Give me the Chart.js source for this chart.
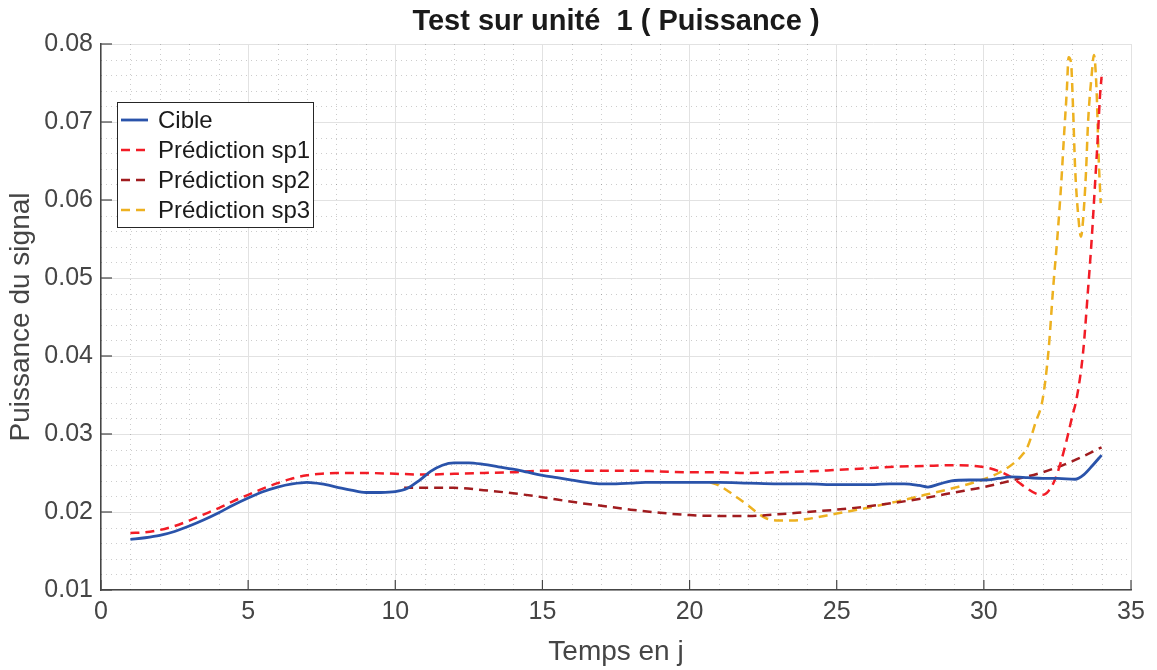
<!DOCTYPE html>
<html>
<head>
<meta charset="utf-8">
<script src="https://cdn.jsdelivr.net/npm/chart.js@4/dist/chart.umd.min.js"></script>
<style>
  html, body { margin: 0; padding: 0; background: #ffffff; }
  #wrap { width: 1157px; height: 670px; }
</style>
</head>
<body>
<div id="wrap"><canvas id="c" width="1157" height="670"></canvas></div>
<script>
// Signal power per day: target and three predictions
const cibleX = [1.0, 1.5, 2.0, 2.5, 3.0, 3.5, 4.0, 4.5, 5.0, 5.5, 6.0, 6.5, 7.0, 7.5, 8.0, 8.5, 9.0, 9.5, 10.0, 10.4, 10.8, 11.2, 11.6, 12.0, 12.5, 13.0, 13.5, 14.0, 14.5, 15.0, 15.5, 16.0, 16.5, 17.0, 17.5, 18.0, 18.5, 19.0, 20.0, 21.0, 22.0, 23.0, 24.0, 25.0, 26.0, 26.8, 27.3, 27.8, 28.1, 28.5, 28.9, 29.5, 30.0, 30.5, 30.9, 31.5, 32.0, 32.5, 33.1, 33.4, 33.7, 34.0];
const cibleY = [0.0165, 0.0167, 0.0170, 0.0175, 0.0182, 0.0190, 0.0199, 0.0209, 0.0218, 0.0226, 0.0232, 0.0236, 0.0238, 0.0236, 0.0232, 0.0228, 0.0225, 0.0225, 0.0226, 0.0230, 0.0240, 0.0252, 0.0260, 0.0263, 0.0263, 0.0261, 0.0258, 0.0255, 0.0251, 0.0247, 0.0244, 0.0241, 0.0238, 0.0236, 0.0236, 0.0237, 0.0238, 0.0238, 0.0238, 0.0238, 0.0237, 0.0236, 0.0236, 0.0235, 0.0235, 0.0236, 0.0236, 0.0234, 0.0232, 0.0236, 0.0240, 0.0241, 0.0241, 0.0243, 0.0245, 0.0244, 0.0243, 0.0243, 0.0242, 0.0248, 0.0260, 0.0273];

const sp1X = [1.0, 1.5, 2.0, 2.5, 3.0, 3.5, 4.0, 4.5, 5.0, 5.5, 6.0, 6.5, 7.0, 7.5, 8.0, 9.0, 10.0, 11.0, 12.0, 13.0, 14.0, 15.0, 16.0, 17.0, 18.0, 19.0, 20.0, 21.0, 22.0, 23.0, 24.0, 25.0, 26.0, 27.0, 28.0, 28.8, 29.7, 30.2, 30.6, 31.0, 31.4, 31.8, 32.0, 32.2, 32.4, 32.6, 32.8, 33.0, 33.16, 33.37, 33.54, 33.67, 33.78, 33.88, 33.94, 34.0];
const sp1Y = [0.0173, 0.0174, 0.0177, 0.0182, 0.0189, 0.0197, 0.0205, 0.0214, 0.0222, 0.0230, 0.0237, 0.0243, 0.0247, 0.0249, 0.0250, 0.0250, 0.0249, 0.0248, 0.0249, 0.0250, 0.0251, 0.0253, 0.0253, 0.0253, 0.0253, 0.0252, 0.0251, 0.0251, 0.0250, 0.0251, 0.0252, 0.0254, 0.0256, 0.0258, 0.0259, 0.0260, 0.0259, 0.0256, 0.0251, 0.0243, 0.0232, 0.0223, 0.0222, 0.0227, 0.0240, 0.0262, 0.0290, 0.0322, 0.0347, 0.0404, 0.0485, 0.0553, 0.0622, 0.0686, 0.0730, 0.0758];

const sp2X = [10.3, 11.0, 12.0, 13.0, 14.0, 15.0, 16.0, 17.0, 18.0, 19.0, 20.0, 21.0, 22.0, 23.0, 24.0, 25.0, 26.0, 27.0, 28.0, 29.0, 30.0, 31.0, 32.0, 33.0, 34.0];
const sp2Y = [0.0231, 0.0231, 0.0231, 0.0228, 0.0224, 0.0219, 0.0213, 0.0208, 0.0203, 0.0199, 0.0196, 0.0195, 0.0195, 0.0197, 0.0200, 0.0203, 0.0207, 0.0212, 0.0218, 0.0225, 0.0232, 0.0241, 0.0251, 0.0265, 0.0283];

const sp3X = [20.7, 21.0, 21.3, 21.6, 22.0, 22.3, 22.6, 23.0, 23.5, 24.0, 25.0, 26.0, 27.0, 28.0, 29.0, 30.0, 30.5, 31.0, 31.3, 31.5, 31.75, 32.0, 32.2, 32.35, 32.5, 32.63, 32.73, 32.82, 32.88, 32.96, 33.03, 33.1, 33.2, 33.3, 33.37, 33.47, 33.54, 33.67, 33.74, 33.83, 33.9, 33.97];
const sp3Y = [0.0238, 0.0234, 0.0227, 0.0219, 0.0208, 0.0199, 0.0192, 0.0189, 0.0189, 0.0191, 0.0198, 0.0205, 0.0213, 0.0222, 0.0231, 0.0242, 0.0250, 0.0262, 0.0273, 0.0285, 0.0314, 0.0345, 0.0408, 0.0485, 0.0553, 0.0622, 0.0686, 0.0741, 0.0783, 0.0777, 0.0719, 0.0642, 0.0583, 0.0553, 0.0574, 0.0635, 0.0699, 0.0763, 0.0786, 0.0741, 0.0655, 0.0596];

const seriesLabels = ['Cible', 'Prédiction sp1', 'Prédiction sp2', 'Prédiction sp3'];
const xTicks = [0, 5, 10, 15, 20, 25, 30, 35];
const yTicks = [0.01, 0.02, 0.03, 0.04, 0.05, 0.06, 0.07, 0.08];

const FONT = "'Liberation Sans', Arial, Helvetica, sans-serif";
const AXIS_GREY = '#454545';

function pts(xs, ys) { return xs.map((x, i) => ({ x: x, y: ys[i] })); }

// Dotted minor grid underneath the data
const minorGrid = {
  id: 'minorGrid',
  beforeDatasetsDraw(chart) {
    const { ctx, chartArea: a, scales: { x, y } } = chart;
    ctx.save();
    ctx.strokeStyle = 'rgba(0,0,0,0.2)';
    ctx.lineWidth = 1;
    ctx.setLineDash([1, 4]);
    for (let v = x.min + 1; v < x.max; v += 1) {
      if (v % 5 === 0) continue;
      const px = Math.round(x.getPixelForValue(v)) + 0.5;
      ctx.beginPath(); ctx.moveTo(px, a.bottom); ctx.lineTo(px, a.top); ctx.stroke();
    }
    for (let k = 1; k < 35; k++) {
      if (k % 5 === 0) continue;
      const v = y.min + k * 0.002;
      const py = Math.round(y.getPixelForValue(v)) + 0.5;
      ctx.beginPath(); ctx.moveTo(a.left, py); ctx.lineTo(a.right, py); ctx.stroke();
    }
    ctx.restore();
  }
};

// Inward tick marks on the left and bottom axes
const innerTicks = {
  id: 'innerTicks',
  afterDatasetsDraw(chart) {
    const { ctx, chartArea: a, scales: { x, y } } = chart;
    ctx.save();
    ctx.strokeStyle = AXIS_GREY;
    ctx.lineWidth = 1.2;
    ctx.setLineDash([]);
    xTicks.forEach(v => {
      const px = x.getPixelForValue(v);
      ctx.beginPath(); ctx.moveTo(px, a.bottom); ctx.lineTo(px, a.bottom - 10); ctx.stroke();
    });
    yTicks.forEach(v => {
      const py = y.getPixelForValue(v);
      ctx.beginPath(); ctx.moveTo(a.left, py); ctx.lineTo(a.left + 11, py); ctx.stroke();
    });
    ctx.restore();
  }
};

// Boxed legend inside the plot, upper left
const boxLegend = {
  id: 'boxLegend',
  afterDraw(chart) {
    const { ctx, chartArea: a } = chart;
    const left = a.left + 16, top = a.top + 58, w = 196, h = 125;
    ctx.save();
    ctx.fillStyle = '#ffffff';
    ctx.fillRect(left, top, w, h);
    ctx.strokeStyle = '#262626';
    ctx.lineWidth = 1;
    ctx.setLineDash([]);
    ctx.strokeRect(left + 0.5, top + 0.5, w, h);
    ctx.font = '24px ' + FONT;
    ctx.textBaseline = 'middle';
    ctx.textAlign = 'left';
    chart.data.datasets.forEach((ds, i) => {
      const cy = top + 18 + i * 30;
      ctx.strokeStyle = ds.borderColor;
      ctx.lineWidth = ds.borderWidth;
      ctx.setLineDash(ds.borderDash || []);
      ctx.beginPath(); ctx.moveTo(left + 4, cy); ctx.lineTo(left + 31, cy); ctx.stroke();
      ctx.setLineDash([]);
      ctx.fillStyle = '#1a1a1a';
      ctx.fillText(ds.label, left + 41, cy + 1);
    });
    ctx.restore();
  }
};

const lineBase = { pointRadius: 0, pointHoverRadius: 0, fill: false, cubicInterpolationMode: 'monotone', borderWidth: 2.5 };

new Chart(document.getElementById('c'), {
  type: 'line',
  data: {
    datasets: [
      Object.assign({}, lineBase, { label: seriesLabels[0], data: pts(cibleX, cibleY), borderColor: '#2a53aa', borderWidth: 2.8 }),
      Object.assign({}, lineBase, { label: seriesLabels[1], data: pts(sp1X, sp1Y), borderColor: '#f21c26', borderDash: [9, 6] }),
      Object.assign({}, lineBase, { label: seriesLabels[2], data: pts(sp2X, sp2Y), borderColor: '#a01c1f', borderDash: [9, 6] }),
      Object.assign({}, lineBase, { label: seriesLabels[3], data: pts(sp3X, sp3Y), borderColor: '#edb120', borderDash: [9, 6] })
    ]
  },
  options: {
    responsive: false,
    animation: false,
    devicePixelRatio: 1,
    layout: { padding: { top: 0, right: 26, bottom: 0, left: 0 } },
    plugins: {
      legend: { display: false },
      tooltip: { enabled: false },
      title: {
        display: true,
        text: 'Test sur unité  1 ( Puissance )',
        fullSize: false,
        color: '#1a1a1a',
        font: { family: FONT, size: 29, weight: 'bold', lineHeight: 1.2 },
        padding: { top: 5, bottom: 4.2 }
      }
    },
    scales: {
      x: {
        type: 'linear',
        min: 0, max: 35,
        afterBuildTicks(scale) { scale.ticks = xTicks.map(v => ({ value: v })); },
        afterFit(scale) { scale.height = 80; },
        ticks: { color: AXIS_GREY, font: { family: FONT, size: 25 }, padding: 7, maxRotation: 0, callback: v => String(v) },
        grid: { color: '#e2e2e2', lineWidth: 1, drawTicks: false },
        border: { display: true, color: AXIS_GREY, width: 1.5 },
        title: { display: true, text: 'Temps en j', color: AXIS_GREY, font: { family: FONT, size: 28 }, padding: { top: 0, bottom: 1 } }
      },
      y: {
        type: 'linear',
        min: 0.01, max: 0.08,
        afterBuildTicks(scale) { scale.ticks = yTicks.map(v => ({ value: v })); },
        afterFit(scale) { scale.width = 101; },
        ticks: { color: AXIS_GREY, font: { family: FONT, size: 25 }, padding: 8, callback: v => Number(v).toFixed(2) },
        grid: { color: '#e2e2e2', lineWidth: 1, drawTicks: false },
        border: { display: true, color: AXIS_GREY, width: 1.5 },
        title: { display: true, text: 'Puissance du signal', color: AXIS_GREY, font: { family: FONT, size: 28 }, padding: { top: 4, bottom: 0 } }
      }
    }
  },
  plugins: [minorGrid, innerTicks, boxLegend]
});
</script>
</body>
</html>
